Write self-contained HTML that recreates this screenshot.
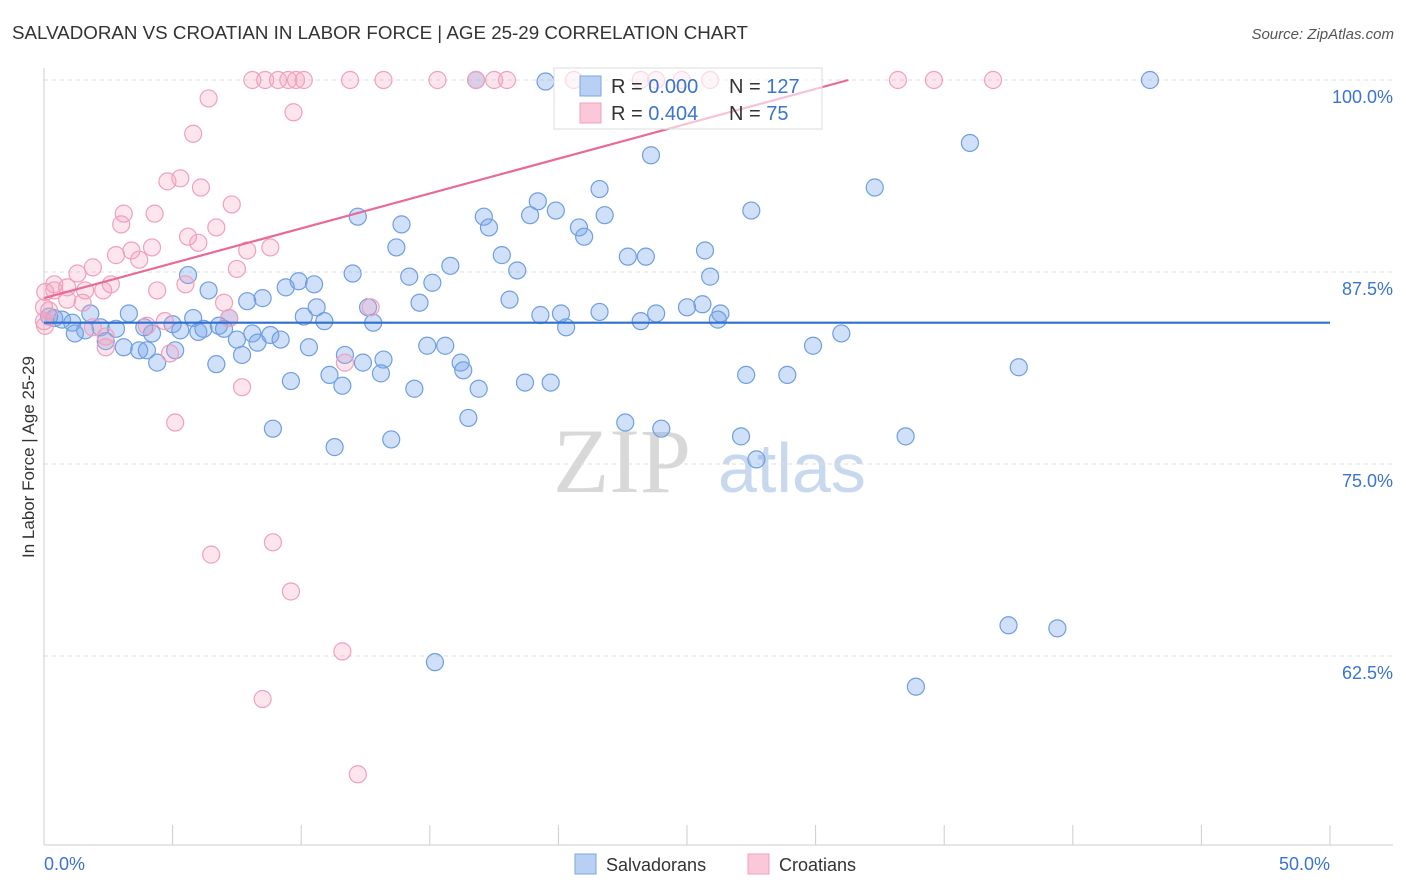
<!DOCTYPE html>
<html><head><meta charset="utf-8"><style>
body{margin:0;background:#fff;font-family:"Liberation Sans",sans-serif;}
svg{display:block}
</style></head><body>
<svg id="chart" width="1406" height="892">
<text x="12" y="39" font-size="18.5" fill="#333" textLength="736" lengthAdjust="spacingAndGlyphs">SALVADORAN VS CROATIAN IN LABOR FORCE | AGE 25-29 CORRELATION CHART</text>
<text x="1394" y="39" font-size="15" fill="#555" font-style="italic" text-anchor="end">Source: ZipAtlas.com</text>
<g>
<text x="553" y="492" font-size="92" fill="#d8d8d8" font-family="Liberation Serif,serif">ZIP</text>
<text x="718" y="492" font-size="70" fill="#c8d8ee">atlas</text>
</g>
<g id="grid"></g><g id="axes"></g><g id="pts"></g><g id="trend"></g>
<text transform="translate(34,457) rotate(-90)" font-size="17" fill="#333" text-anchor="middle">In Labor Force | Age 25-29</text>
<g>
<rect x="554" y="68" width="268" height="61" fill="#fff" fill-opacity="0.6" stroke="#ddd"/>
<rect x="580" y="76" width="21" height="20" fill="#b8d0f4" stroke="#7aa6e6"/>
<rect x="580" y="103" width="21" height="20" fill="#fac8d8" stroke="#f0a0bc"/>
<text x="611" y="93" font-size="20" fill="#333">R = <tspan fill="#3a74d0">0.000</tspan></text>
<text x="729" y="93" font-size="20" fill="#333">N = <tspan fill="#3a74d0">127</tspan></text>
<text x="611" y="120" font-size="20" fill="#333">R = <tspan fill="#3a74d0"> 0.404</tspan></text>
<text x="729" y="120" font-size="20" fill="#333">N = <tspan fill="#3a74d0">  75</tspan></text>
</g>
<g>
<rect x="575" y="854" width="21" height="20" fill="#b8d0f4" stroke="#7aa6e6"/>
<text x="606" y="871" font-size="18" fill="#333">Salvadorans</text>
<rect x="748" y="854" width="21" height="20" fill="#fac8d8" stroke="#f0a0bc"/>
<text x="779" y="871" font-size="18" fill="#333">Croatians</text>
</g>
</svg>
<script>
const yTicks=[100,87.5,75,62.5];
const yTickLabels=["100.0%","87.5%","75.0%","62.5%"];
const xTickLabels=["0.0%","50.0%"];
const blueX=[43.0,36.0,23.6,32.3,21.6,19.2,19.9,21.8,27.5,12.2,17.1,18.9,13.9,17.3,20.8,21.0,13.7,25.7,22.7,23.4,17.8,15.8,12.0,14.2,18.4,25.9,5.6,9.9,15.1,10.5,9.4,6.4,8.5,7.9,14.6,18.1,12.6,10.6,25.6,25.0,3.3,19.3,20.1,21.6,23.8,26.3,1.8,10.1,12.8,20.3,23.2,26.2,10.9,7.2,5.8,5.0,0.4,0.7,0.2,1.1,1.6,2.2,2.8,1.2,3.9,4.2,6.0,5.3,6.2,6.8,7.0,7.5,8.1,8.8,9.2,8.3,2.4,3.1,3.7,4.0,5.1,7.7,10.3,14.9,15.6,11.7,31.0,29.9,12.4,13.2,6.7,4.4,16.2,16.3,11.1,13.1,9.6,11.6,14.4,16.9,18.7,19.7,27.3,28.9,37.9,16.5,22.6,24.0,27.1,33.5,8.9,13.5,11.3,27.7,37.5,39.4,15.2,33.9,19.5,16.8];
const blueY=[100,95.9,95.1,93.0,92.9,92.1,91.5,91.2,91.5,91.1,91.1,91.2,90.6,90.4,90.4,89.8,89.1,88.9,88.5,88.5,88.6,87.9,87.4,87.2,87.6,87.2,87.3,86.9,86.8,86.7,86.5,86.3,85.8,85.6,85.5,85.7,85.2,85.2,85.4,85.2,84.8,84.7,84.8,84.9,84.8,84.8,84.8,84.6,84.2,83.9,84.3,84.4,84.3,84.5,84.5,84.1,84.5,84.4,84.6,84.2,83.7,83.9,83.8,83.5,83.9,83.5,83.6,83.7,83.8,84.0,83.8,83.1,83.5,83.4,83.1,82.9,83.0,82.6,82.4,82.4,82.4,82.1,82.6,82.7,82.7,82.1,83.5,82.7,81.6,81.8,81.5,81.6,81.6,81.1,80.8,80.9,80.4,80.1,79.9,79.9,80.3,80.3,80.8,80.8,81.3,78.0,77.7,77.3,76.8,76.8,77.3,76.6,76.1,75.3,64.5,64.3,62.1,60.5,99.9,100];
const pinkX=[8.1,8.6,9.1,9.5,9.8,10.1,11.9,13.2,15.3,16.8,17.5,18.0,20.6,23.2,23.8,24.8,25.9,33.2,34.6,36.9,6.4,9.7,5.8,5.3,4.8,6.1,7.3,3.1,4.3,3.0,6.7,5.6,6.0,4.2,3.4,7.9,8.8,2.8,3.7,1.9,1.3,7.5,0.4,0.9,0.4,0.05,2.6,4.4,5.5,2.3,1.6,0.9,1.5,7.0,12.7,0.0,0.2,4.7,7.2,4.0,2.4,2.4,4.9,11.7,7.7,5.1,6.5,8.9,9.6,11.6,8.5,12.2,0.04,1.9,0.0];
const pinkY=[100,100,100,100,100,100,100,100,100,100,100,100,100,100,100,100,100,100,100,100,98.8,97.9,96.5,93.6,93.4,93.0,91.9,91.3,91.3,90.6,90.4,89.8,89.4,89.1,88.9,88.9,89.1,88.6,88.3,87.8,87.4,87.7,86.7,86.5,86.3,86.2,86.7,86.3,86.7,86.3,86.3,85.7,85.5,85.5,85.2,85.2,85.0,84.3,84.5,84.0,83.3,82.6,82.2,81.6,80.0,77.7,69.1,69.9,66.7,62.8,59.7,54.8,84.0,83.9,84.3];
const blueTrend=[84.2,0];   // intercept, slope
const pinkTrend=[85.8,0.454];

const NS="http://www.w3.org/2000/svg";
const X=v=>44+v*25.72, Y=v=>80+(100-v)*15.36;
function mk(tag,attrs,parent){const e=document.createElementNS(NS,tag);for(const k in attrs)e.setAttribute(k,attrs[k]);document.getElementById(parent).appendChild(e);return e;}
yTicks.forEach((t,i)=>{
 const l=mk('line',{x1:44,x2:1393,y1:Y(t),y2:Y(t),stroke:'#ddd','stroke-dasharray':'4,4'},'grid');
 
 
 const tx=mk('text',{x:1393,y:Y(t)+23,'font-size':18,fill:'#3a74d0','text-anchor':'end'},'grid');
 tx.textContent=yTickLabels[i];
 
 
});
mk('line',{x1:44,x2:44,y1:68,y2:845,stroke:'#ccc'},'axes');
mk('line',{x1:44,x2:1393,y1:845,y2:845,stroke:'#ccc'},'axes');
for(let i=0;i<=10;i++){const t=mk('line',{x1:X(i*5),x2:X(i*5),y1:825,y2:845,stroke:'#ccc'},'axes');
 
 }
[[0,'start'],[50,'end']].forEach((d,i)=>{const t=mk('text',{x:X(d[0]),y:870,'font-size':18,fill:'#3a74d0','text-anchor':d[1]},'axes');t.textContent=xTickLabels[i];
 
 });
blueX.forEach((v,i)=>{const c=mk('circle',{cx:X(v),cy:Y(blueY[i]),r:8.5,fill:'rgba(120,165,235,0.35)',stroke:'#6e9fe2','stroke-width':1.2},'pts');
 
 });
pinkX.forEach((v,i)=>{const c=mk('circle',{cx:X(v),cy:Y(pinkY[i]),r:8.5,fill:'rgba(245,160,190,0.28)',stroke:'#f0a0bc','stroke-width':1.2},'pts');
 
 });
const bl=mk('line',{x1:X(0),x2:X(50),y1:Y(blueTrend[0]),y2:Y(blueTrend[0]+50*blueTrend[1]),stroke:'#2f6fd0','stroke-width':2.2},'trend');


const xe=Math.min(50,(100-pinkTrend[0])/pinkTrend[1]);
const pl=mk('line',{x1:X(0),x2:X(xe),y1:Y(pinkTrend[0]),y2:Y(pinkTrend[0]+xe*pinkTrend[1]),stroke:'#e86a98','stroke-width':2.2},'trend');


</script>
</body></html>
